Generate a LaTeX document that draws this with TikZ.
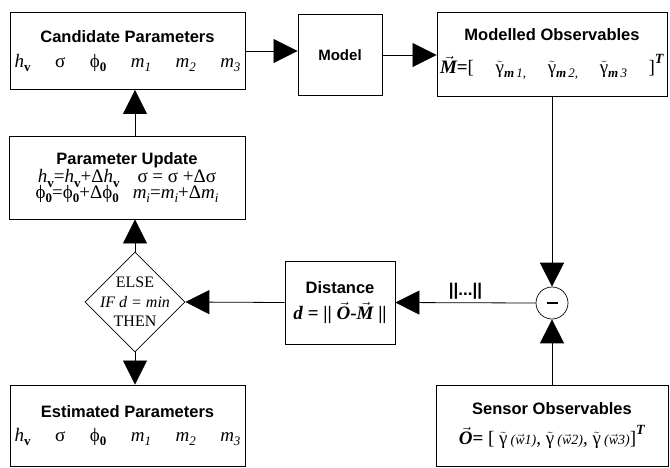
\documentclass[tikz,border=0pt]{standalone}
\usepackage{fontspec}
\setmainfont{Liberation Serif}
\setsansfont{Liberation Sans}
\usetikzlibrary{shapes.geometric,arrows.meta}

\newcommand{\boxtitle}{\sffamily\bfseries\fontsize{16.5}{19}\selectfont}
\newcommand{\symrow}{\fontsize{19}{22}\selectfont}
\newcommand{\lowsub}[1]{\raisebox{-0.22em}{\fontsize{13}{13}\selectfont #1}}
\newcommand{\hv}{\textit{h}\lowsub{\textbf{v}}}
\newcommand{\phiz}{ϕ\lowsub{\textbf{0}}}
\newcommand{\mi}[1]{\textit{m}\lowsub{\textit{#1}}}
\newcommand{\gtil}{\(\tilde{\mbox{γ}}\)}
\newcommand{\vecbf}[1]{\(\vec{\mbox{\bfseries\itshape #1}}\)}
\newcommand{\supT}{\raisebox{0.55em}{\fontsize{14}{14}\selectfont\textbf{\textit{T}}}}
\newcommand{\warg}[1]{{\fontsize{14}{14}\selectfont\textit{(\(\vec{\mbox{\textit{w}}}\)#1)}}}

\begin{document}
\begin{tikzpicture}[x=1pt, y=-1pt,
    box/.style={draw, line width=0.9pt, align=center, inner sep=0pt},
    test/.style={draw, diamond, line width=0.7pt, align=center, inner sep=-15pt,
      minimum width=100pt, minimum height=100pt, font=\fontsize{16}{19.5}\selectfont},
    sum/.style={draw, circle, line width=0.7pt, minimum size=32pt, inner sep=0pt},
    arr/.style={-{Triangle[length=24pt,width=24pt]}, line width=0.8pt}]
  \useasboundingbox (0,0) rectangle (670,467);
  \node[box, minimum width=235pt, minimum height=77pt] (cand) at (127.5,51)
    {{\boxtitle Candidate Parameters}\\[11pt]
     {\symrow\makebox[226pt]{\hv\hfill σ\hfill \phiz\hfill \mi{1}\hfill \mi{2}\hfill \mi{3}}}};
  \node[box, minimum width=84pt, minimum height=81pt] (model) at (340,55)
    {\sffamily\bfseries\fontsize{15}{18}\selectfont Model};
  \node[box, minimum width=230pt, minimum height=84pt] (mobs) at (552,54)
    {{\boxtitle Modelled Observables}\\[13pt]
     {\symrow\makebox[224pt]{\vecbf{M}\textbf{=}[\hfill \gtil\lowsub{\textbf{\textit{m}}\,\textit{1,}}\hfill
      \gtil\lowsub{\textbf{\textit{m}}\,\textit{2,}}\hfill
      \gtil\lowsub{\textbf{\textit{m}}\,\textit{3}}\hfill ]\supT}}};
  \node[box, minimum width=236pt, minimum height=83pt] (update) at (127,177.5)
    {{\boxtitle Parameter Update}\\[1pt]
     {\symrow\hv=\hv+Δ\hv\hspace{18pt}σ = σ +Δσ}\\[-3pt]
     {\symrow\phiz=\phiz+Δ\phiz\hspace{14pt}\mi{i}=\mi{i}+Δ\mi{i}}};
  \node[test] (dec) at (135,302) {ELSE\\\textit{IF d = min}\\THEN};
  \node[box, minimum width=110pt, minimum height=83pt] (dist) at (340,302.5)
    {{\boxtitle Distance}\\[8pt]
     {\symrow\bfseries\textit{d} = || \vecbf{O}-\vecbf{M} ||}};
  \node[sum] (minus) at (552,303) {\rule{11pt}{2.6pt}};
  \node[box, minimum width=235pt, minimum height=81pt] (est) at (127.5,425.5)
    {{\boxtitle Estimated Parameters}\\[10pt]
     {\symrow\makebox[226pt]{\hv\hfill σ\hfill \phiz\hfill \mi{1}\hfill \mi{2}\hfill \mi{3}}}};
  \node[box, minimum width=232pt, minimum height=81pt] (sensor) at (552,425.5)
    {{\boxtitle Sensor Observables}\\[10pt]
     {\symrow\makebox[228pt]{\vecbf{O}\textbf{=} [ \gtil\,\warg{1}, \gtil\,\warg{2}, \gtil\,\warg{3}]\supT}}};
  \path [arr] (cand.east) edge (cand.east -| model.west);
  \path [arr] (model.east) edge (model.east -| mobs.west);
  \path [arr] (mobs.south) edge (minus.north);
  \path [arr] (sensor.north) edge (minus.south);
  \path [arr] (minus.west) edge node[above, inner sep=3pt, font=\sffamily\bfseries\fontsize{17}{19}\selectfont] (norm) {||...||} (dist.east);
  \path [arr] (dist.west) edge (dec.east);
  \path [arr] (dec.south) edge (dec.south |- est.north);
  \path [arr] (dec.north) edge (dec.north |- update.south);
  \path [arr] (update.north -| dec.north) edge (cand.south -| dec.north);
\end{tikzpicture}
\end{document}
